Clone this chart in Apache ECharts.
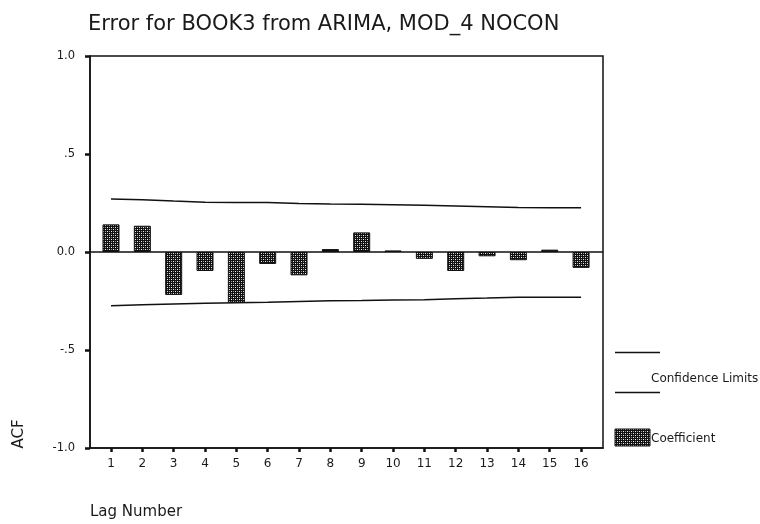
<!DOCTYPE html>
<html>
<head>
<meta charset="utf-8">
<script src="https://cdn.jsdelivr.net/npm/echarts@6/dist/echarts.min.js"></script>
<style>
html,body{margin:0;padding:0;background:#fff;}
#chart{width:760px;height:524px;}
</style>
</head>
<body>
<div id="chart"></div>
<script>
// ---- data ----
const lags = [1,2,3,4,5,6,7,8,9,10,11,12,13,14,15,16];
const acf = [0.141,0.134,-0.219,-0.097,-0.259,-0.061,-0.119,0.015,0.100,0.008,-0.035,-0.097,-0.022,-0.042,0.012,-0.081];
const upperLimit = [0.270,0.267,0.260,0.254,0.253,0.252,0.247,0.245,0.244,0.241,0.238,0.235,0.231,0.227,0.226,0.226];
const lowerLimit = [-0.274,-0.269,-0.265,-0.262,-0.259,-0.257,-0.252,-0.249,-0.248,-0.245,-0.243,-0.238,-0.235,-0.231,-0.231,-0.231];
const yTicks = [-1, -0.5, 0, 0.5, 1];
const yTickLabels = ['-1.0', '-.5', '0.0', '.5', '1.0'];
const titleText = 'Error for BOOK3 from ARIMA, MOD_4 NOCON';

// checker pattern for bars
function makePattern(){
  const c = document.createElement('canvas');
  c.width = 4; c.height = 4;
  const g = c.getContext('2d');
  g.fillStyle = '#111'; g.fillRect(0,0,4,4);
  g.fillStyle = '#eee';
  g.fillRect(1,1,1,1); g.fillRect(3,3,1,1);
  g.fillStyle = '#999';
  g.fillRect(3,1,1,1); g.fillRect(1,3,1,1);
  return c;
}
const pat = makePattern();
const font = 'DejaVu Sans';

const chart = echarts.init(document.getElementById('chart'), null, {renderer:'canvas'});
chart.setOption({
  animation:false,
  backgroundColor:'#fff',
  title:{
    text:titleText, left:83, top:9,
    textStyle:{fontFamily:font, fontSize:21, fontWeight:'normal', color:'#1a1a1a'}
  },
  grid:{left:90, right:157, top:56, bottom:76, show:true, borderColor:'#111', borderWidth:1.5, backgroundColor:'transparent'},
  xAxis:{
    type:'value', min:0.33, max:16.7,
    splitLine:{show:false},
    axisLine:{show:true, onZero:false, lineStyle:{color:'#111', width:1.5}},
    axisTick:{show:true, customValues:lags, length:4, lineStyle:{color:'#111', width:2.5}},
    axisLabel:{customValues:lags, margin:10, fontFamily:font, fontSize:12, color:'#1a1a1a'}
  },
  yAxis:{
    type:'value', min:-1, max:1, interval:0.5,
    splitLine:{show:false},
    axisLine:{show:true, lineStyle:{color:'#111', width:1.5}},
    axisTick:{show:true, length:5, lineStyle:{color:'#111', width:2.5}},
    axisLabel:{margin:15, fontFamily:font, fontSize:11.5, color:'#1a1a1a',
      formatter:function(v){ const i = yTicks.findIndex(t=>Math.abs(t-v)<1e-9); return i>=0 ? yTickLabels[i] : ''; }}
  },
  series:[
    {
      name:'Coefficient', type:'bar', barWidth:17,
      data: lags.map((l,i)=>[l, acf[i]]),
      itemStyle:{color:{image:pat, repeat:'repeat'}, borderColor:'#111', borderWidth:1},
      markLine:{silent:true, symbol:['none','none'], label:{show:false},
        lineStyle:{color:'#111', type:'solid', width:1.5},
        data:[{yAxis:0}]},
      z:3
    },
    {
      name:'Confidence Limits', type:'line', symbol:'none',
      data: lags.map((l,i)=>[l, upperLimit[i]]),
      lineStyle:{color:'#111', width:1.5}
    },
    {
      name:'Confidence Limits', type:'line', symbol:'none',
      data: lags.map((l,i)=>[l, lowerLimit[i]]),
      lineStyle:{color:'#111', width:1.5}
    }
  ],
  graphic:[
    {type:'text', x:19, y:434, rotation:Math.PI/2, style:{text:'ACF', font:'15px "DejaVu Sans"', fill:'#1a1a1a', align:'center', verticalAlign:'middle'}},
    {type:'text', x:90, y:512, style:{text:'Lag Number', font:'15px "DejaVu Sans"', fill:'#1a1a1a', align:'left', verticalAlign:'middle'}},
    {type:'line', shape:{x1:615, y1:352.5, x2:660, y2:352.5}, style:{stroke:'#111', lineWidth:1.5}},
    {type:'line', shape:{x1:615, y1:392.5, x2:660, y2:392.5}, style:{stroke:'#111', lineWidth:1.5}},
    {type:'text', x:651, y:379, style:{text:'Confidence Limits', font:'12px "DejaVu Sans"', fill:'#1a1a1a', align:'left', verticalAlign:'middle'}},
    {type:'rect', shape:{x:615, y:429, width:35, height:17}, style:{fill:{image:pat, repeat:'repeat'}, stroke:'#111', lineWidth:1}},
    {type:'text', x:651, y:439, style:{text:'Coefficient', font:'12px "DejaVu Sans"', fill:'#1a1a1a', align:'left', verticalAlign:'middle'}}
  ]
});
</script>
</body>
</html>
